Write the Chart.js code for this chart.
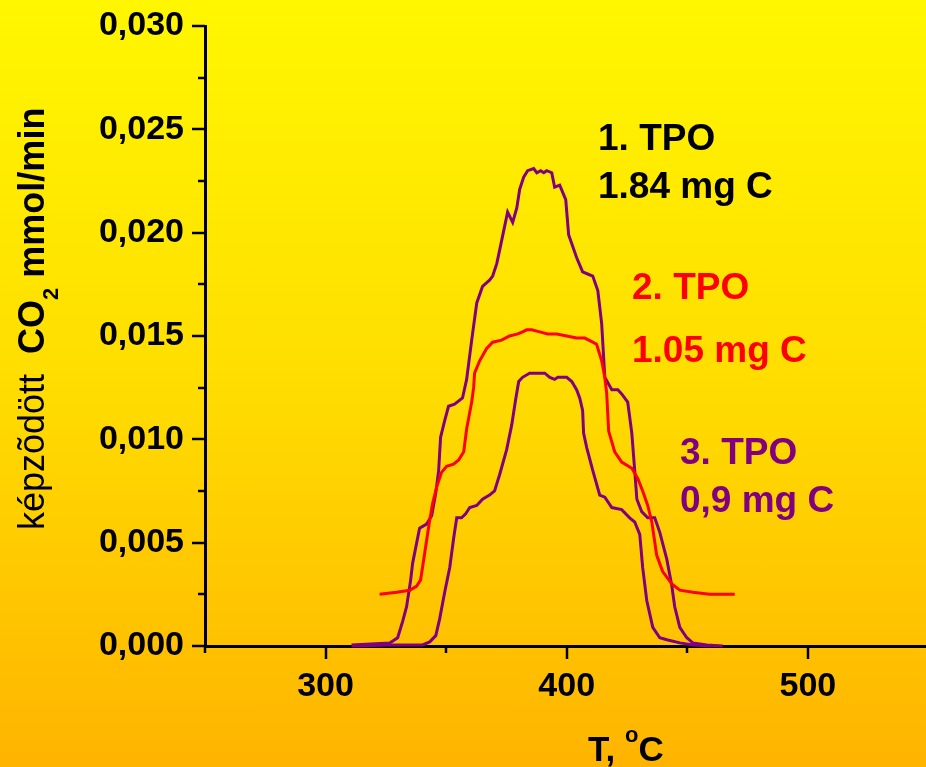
<!DOCTYPE html>
<html><head><meta charset="utf-8">
<script src="https://cdn.jsdelivr.net/npm/chart.js@4.4.1/dist/chart.umd.min.js"></script>
<style>
html,body{margin:0;padding:0;overflow:hidden;}
#wrap{width:926px;height:767px;background:linear-gradient(to bottom,#FFF700 0%,#FFDD00 50%,#FFB400 100%);}
canvas{display:block;}
</style></head>
<body><div id="wrap"><canvas id="c" width="926" height="767"></canvas></div>
<script>
// ---- data ----
const tpo1T = [310.8,326.6,329.9,332.0,333.6,335.3,336.1,337.8,339.0,341.9,344.0,345.7,346.9,347.7,349.4,351.0,353.5,356.8,358.5,360.6,362.7,365.1,368.0,369.3,371.0,373.0,375.5,377.6,379.3,380.5,382.2,383.8,386.3,387.6,389.2,390.5,391.7,393.8,395.0,397.1,399.6,400.8,404.1,406.6,408.7,410.8,412.9,414.5,415.8,418.7,421.2,422.8,425.3,427.0,428.2,429.1,431.1,433.6,436.5,438.6,441.5,443.6,444.8,446.9,449.8,452.3,458.1,464.7];
const tpo1V = [0.00005,0.00015,0.0004,0.0012,0.0019,0.0032,0.0040,0.0050,0.0057,0.0059,0.0063,0.0074,0.0085,0.0101,0.0109,0.0116,0.0117,0.0120,0.0129,0.0148,0.0166,0.0174,0.0177,0.0179,0.0185,0.0196,0.0210,0.0205,0.0212,0.0221,0.0227,0.0230,0.0231,0.0229,0.0230,0.0229,0.0230,0.0229,0.0222,0.0223,0.0216,0.0199,0.0188,0.0181,0.0180,0.0179,0.0172,0.0156,0.0130,0.0124,0.0124,0.0122,0.0118,0.0103,0.0085,0.0071,0.0065,0.0062,0.0062,0.0055,0.0042,0.0029,0.0019,0.0009,0.0004,0.00015,0.00005,0.0];

const tpo2T = [322.4,329.5,334.9,337.8,339.4,340.2,341.9,343.2,344.4,346.1,348.1,350.2,353.1,355.2,357.3,358.5,360.6,361.4,361.8,363.9,366.8,369.3,373.0,376.3,379.7,381.7,383.4,385.5,388.8,392.1,395.9,400.0,404.1,407.5,410.8,412.4,414.5,415.8,416.6,417.4,419.9,422.8,427.0,429.5,431.5,433.6,435.3,437.3,439.8,443.6,446.9,452.3,459.3,469.7];
const tpo2V = [0.0025,0.0026,0.0027,0.0029,0.0032,0.0038,0.0051,0.0061,0.0069,0.0077,0.0084,0.0087,0.0088,0.0090,0.0094,0.0105,0.0118,0.0125,0.0132,0.0138,0.0144,0.0147,0.0148,0.0150,0.0151,0.0152,0.0153,0.0153,0.0152,0.0151,0.0151,0.0150,0.0149,0.0149,0.0147,0.0146,0.0138,0.0130,0.0122,0.0104,0.0094,0.0089,0.0086,0.0081,0.0075,0.0068,0.0060,0.0044,0.0036,0.0030,0.0027,0.0026,0.0025,0.0025];

const tpo3T = [310.8,326.6,340.2,343.2,345.7,347.3,349.4,351.5,353.1,354.4,356.4,358.1,359.8,362.7,365.1,368.0,370.1,372.2,375.1,377.2,378.8,380.1,381.7,384.6,388.0,390.9,393.0,395.0,396.3,400.0,402.1,404.1,405.4,406.6,407.0,408.3,410.8,413.7,415.8,418.7,422.8,426.1,428.2,430.3,431.5,433.2,435.7,438.6,441.5,446.9,452.3,460.0];
const tpo3V = [0,0.00005,0.00005,0.0002,0.0005,0.0013,0.0026,0.0038,0.0052,0.0062,0.0062,0.0064,0.0067,0.0068,0.0071,0.0073,0.0075,0.0083,0.0095,0.0107,0.0119,0.0128,0.0130,0.0132,0.0132,0.0132,0.0130,0.0129,0.0130,0.0130,0.0128,0.0124,0.0120,0.0114,0.0103,0.0096,0.0085,0.0073,0.0072,0.0067,0.0066,0.0062,0.0060,0.0054,0.0038,0.0022,0.0009,0.0004,0.0003,0.00015,0.00005,0];

const xTickValues = [250,300,350,400,450,500];
const xTickLabels = ['','300','','400','','500'];
const yTickValues = [0,0.0025,0.005,0.0075,0.010,0.0125,0.015,0.0175,0.020,0.0225,0.025,0.0275,0.030];
const yTickLabels = ['0,000','','0,005','','0,010','','0,015','','0,020','','0,025','','0,030'];

const seriesNames = ['1. TPO','2. TPO','3. TPO'];
const seriesAmounts = ['1.84 mg C','1.05 mg C','0,9 mg C'];
const yTitleParts = ['képzõdött', '  ', 'CO', '2', ' ', 'mmol/min'];
const xTitleParts = ['T, ', 'o', 'C'];

// ---- styling ----
const FONT = '"Liberation Sans", Arial, Helvetica, sans-serif';
const PURPLE = '#800080', RED = '#FF0000', BLACK = '#000000';

function pts(T, V){ return T.map((t,i)=>({x:t, y:V[i]})); }

const decor = {
  id:'decor',
  afterDraw(chart){
    const {ctx, chartArea, scales:{x, y}} = chart;
    ctx.save();
    // tick marks
    ctx.strokeStyle = BLACK; ctx.lineWidth = 2.5; ctx.lineCap = 'butt';
    y.ticks.forEach((t,i)=>{
      const py = Math.round(y.getPixelForValue(t.value)) ;
      const len = yTickLabels[i] ? 13 : 7;
      ctx.beginPath(); ctx.moveTo(chartArea.left - len, py); ctx.lineTo(chartArea.left, py); ctx.stroke();
    });
    x.ticks.forEach((t,i)=>{
      const px = Math.round(x.getPixelForValue(t.value));
      const len = xTickLabels[i] ? 13 : 7;
      ctx.beginPath(); ctx.moveTo(px, chartArea.bottom); ctx.lineTo(px, chartArea.bottom + len); ctx.stroke();
    });

    // y axis title (rotated, mixed weights)
    ctx.save();
    ctx.translate(44, 530);
    ctx.rotate(-Math.PI/2);
    ctx.fillStyle = BLACK; ctx.textAlign = 'left'; ctx.textBaseline = 'alphabetic';
    let cx = 0;
    const ySpec = [
      {font:'36px '+FONT, dy:0},
      {font:'36px '+FONT, dy:0},
      {font:'bold 36px '+FONT, dy:0},
      {font:'bold 22px '+FONT, dy:14},
      {font:'bold 36px '+FONT, dy:0},
      {font:'bold 36px '+FONT, dy:0}
    ];
    yTitleParts.forEach((s,i)=>{
      ctx.font = ySpec[i].font;
      ctx.fillText(s, cx, ySpec[i].dy);
      cx += ctx.measureText(s).width;
    });
    ctx.restore();

    // x axis title
    ctx.fillStyle = BLACK; ctx.textAlign = 'left'; ctx.textBaseline = 'alphabetic';
    let tx = 588;
    const xSpec = [
      {font:'bold 35px '+FONT, dy:0},
      {font:'bold 22px '+FONT, dy:-19},
      {font:'bold 35px '+FONT, dy:0}
    ];
    xTitleParts.forEach((s,i)=>{
      ctx.font = xSpec[i].font;
      ctx.fillText(s, tx, 761 + xSpec[i].dy);
      tx += ctx.measureText(s).width;
    });

    // annotations
    ctx.font = 'bold 37px ' + FONT;
    const colors = [BLACK, RED, PURPLE];
    const pos = [[598,150,198],[632,299,362],[680,464,512]];
    seriesNames.forEach((n,i)=>{
      ctx.fillStyle = colors[i];
      ctx.fillText(n, pos[i][0], pos[i][1]);
      ctx.fillText(seriesAmounts[i], pos[i][0], pos[i][2]);
    });
    ctx.restore();
  }
};

new Chart(document.getElementById('c'), {
  type:'scatter',
  data:{
    datasets:[
      {label:seriesNames[1], data:pts(tpo2T,tpo2V), borderColor:RED},
      {label:seriesNames[0], data:pts(tpo1T,tpo1V), borderColor:PURPLE},
      {label:seriesNames[2], data:pts(tpo3T,tpo3V), borderColor:PURPLE}
    ]
  },
  options:{
    responsive:false,
    devicePixelRatio:1,
    animation:false,
    layout:{padding:{top:26,left:0,right:0,bottom:0}},
    datasets:{scatter:{showLine:true, pointRadius:0, pointHoverRadius:0, borderWidth:3, tension:0, clip:false, fill:false}},
    plugins:{legend:{display:false}, tooltip:{enabled:false}},
    scales:{
      x:{
        type:'linear', min:250, max:549, position:'bottom',
        afterBuildTicks(s){ s.ticks = xTickValues.map(v=>({value:v})); },
        afterFit(s){ s.height = 121; s.paddingLeft = 0; s.paddingRight = 0; },
        grid:{display:false, drawTicks:false},
        border:{display:true, color:BLACK, width:3},
        ticks:{autoSkip:false, maxRotation:0, padding:20, color:BLACK,
          font:{family:FONT, size:34, weight:'bold', lineHeight:1.2},
          callback:(v,i)=>xTickLabels[i]}
      },
      y:{
        type:'linear', min:0, max:0.030,
        afterBuildTicks(s){ s.ticks = yTickValues.map(v=>({value:v})); },
        afterFit(s){ s.width = 205; s.paddingTop = 0; s.paddingBottom = 0; },
        grid:{display:false, drawTicks:false},
        border:{display:true, color:BLACK, width:3},
        ticks:{autoSkip:false, padding:21, color:BLACK,
          font:{family:FONT, size:34, weight:'bold'},
          callback:(v,i)=>yTickLabels[i]}
      }
    }
  },
  plugins:[decor]
});
</script>
</body></html>
